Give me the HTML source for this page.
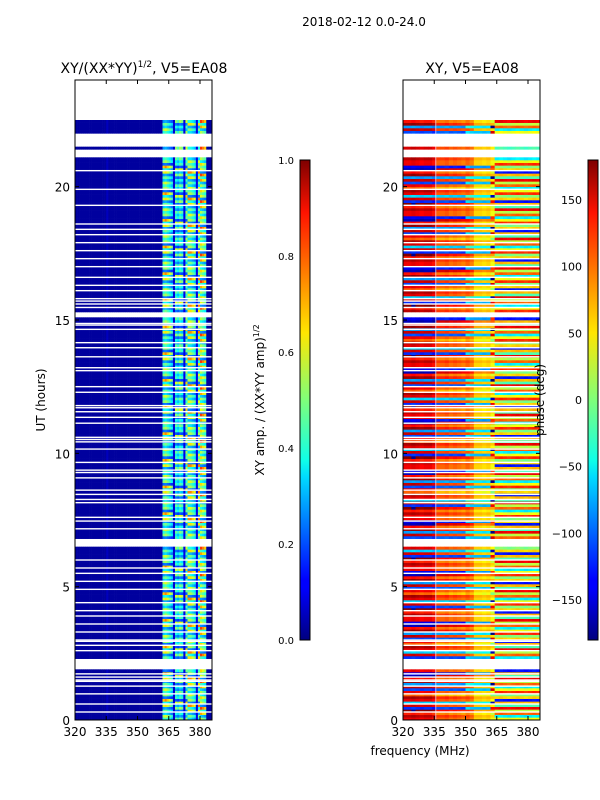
<!DOCTYPE html>
<html><head><meta charset="utf-8">
<style>
body{margin:0;background:#fff;}
svg{display:block;font-family:"DejaVu Sans","Liberation Sans",sans-serif;}
</style></head>
<body>
<svg id="fig" width="600" height="800" viewBox="0 0 600 800" xmlns="http://www.w3.org/2000/svg">
<rect x="0" y="0" width="600" height="800" fill="#fff"/>
<text x="364" y="26" font-size="12" text-anchor="middle">2018-02-12 0.0-24.0</text>
<text x="144" y="73" font-size="14" text-anchor="middle">XY/(XX*YY)<tspan font-size="9" dy="-6">1/2</tspan><tspan dy="6">, V5=EA08</tspan></text>
<text x="472" y="73" font-size="14" text-anchor="middle">XY, V5=EA08</text>
<g id="ampPanel"></g>
<g id="phasePanel"></g>
<g id="axes"></g>
<text transform="translate(45,400) rotate(-90)" font-size="12" text-anchor="middle">UT (hours)</text>
<text x="420" y="755" font-size="12" text-anchor="middle">frequency (MHz)</text>
<text transform="translate(264,400) rotate(-90)" font-size="12" text-anchor="middle">XY amp. / (XX*YY amp)<tspan font-size="8" dy="-5">1/2</tspan></text>
<text transform="translate(544,400) rotate(-90)" font-size="12" text-anchor="middle">phase (deg)</text>
<defs>
<linearGradient id="jet" x1="0" y1="1" x2="0" y2="0">
<stop offset="0" stop-color="#00007f"/><stop offset="0.11" stop-color="#0000ff"/><stop offset="0.125" stop-color="#0000ff"/><stop offset="0.34" stop-color="#00dbff"/><stop offset="0.375" stop-color="#10ffe7"/><stop offset="0.5" stop-color="#7fff7a"/><stop offset="0.64" stop-color="#ffe600"/><stop offset="0.66" stop-color="#ffd600"/><stop offset="0.89" stop-color="#ff1300"/><stop offset="1" stop-color="#7f0000"/>
</linearGradient>
</defs>
<rect x="300" y="160" width="10" height="480" fill="url(#jet)" stroke="#000" stroke-width="1"/>
<rect x="588" y="160" width="10" height="480" fill="url(#jet)" stroke="#000" stroke-width="1"/>
<g id="cbticks"></g>
</svg>
<script>
// ---- data ----
const freqStart = 320, freqEnd = 386;
const ampBin = 1, phaseBin = 2;
const timeBin = 0.1;
const gapIntervals = [[22.46,24],[21.48,21.99],[21.07,21.45],[15.08,15.3],[6.5,6.85],[1.95,2.3]];
const flagLines = [20.6,19.9,19.3,18.6,18.4,18.2,17.9,17.6,17.3,17.0,16.6,16.3,16.1,15.8,15.71,15.6,15.47,14.87,14.81,14.65,14.15,13.96,13.62,13.21,13.1,12.5,12.29,11.79,11.71,11.56,11.35,11.13,10.6,10.52,10.43,10.16,9.66,9.37,9.28,9.08,8.62,8.46,8.27,8.15,7.6,7.46,7.17,6.0,5.7,5.5,5.2,4.9,4.4,4.1,3.9,3.6,3.3,3.0,2.95,2.8,2.6,1.73,1.61,1.5,1.45,1.27,0.98,0.6,0.3];
// amplitude per 1-MHz channel (320..385)
const colAmp = [0.03,0.03,0.03,0.03,0.03,0.03,0.03,0.03,0.03,0.03,
                0.03,0.03,0.03,0.03,0.03,0.06,0.03,0.03,0.03,0.03,
                0.03,0.03,0.03,0.03,0.03,0.03,0.03,0.03,0.03,0.03,
                0.03,0.03,0.03,0.03,0.03,0.03,0.03,0.03,0.03,0.03,
                0.03,0.04,0.45,0.5,0.45,0.4,0.35,0.08,0.4,0.35,
                0.42,0.38,0.1,0.45,0.5,0.5,0.45,0.4,0.1,0.5,
                0.55,0.5,0.45,0.03,0.03,0.03];
const ampRowFactor = [1.0,0.6,1.3,0.8,1.5,0.5,1.1,0.9,1.2,0.7];
// phase per 2-MHz bin (deg) and spread
const colPhase = [140,140,145,140,135,140,140,130,100,100,105,95,100,95,90,100,90,60,60,55,60,40,40,45,40,35,40,45,40,35,40,45,40];
const colSpread = [1.0,1.0,1.0,1.0,1.0,1.0,1.0,1.0,0.8,0.8,0.8,0.8,0.8,0.8,0.8,0.6,0.6,0.5,0.5,0.5,0.5,1.0,1.0,1.0,1.0,1.0,1.0,1.0,1.0,1.0,1.0,1.0,1.0];
const phaseRowOffsetLow = [0,20,-15,40,-260,10,-200,5,25,-40,0,-250,15,-220,30,-10,60,-280,0];
const phaseRowOffsetHigh = [0,-90,60,-20,100,-60,30,-170,20,-40,80];
const highBandStart = 364;
const yTicks = [0,5,10,15,20];
const xTicks = [320,335,350,365,380];
const ampCbTicks = ["0.0","0.2","0.4","0.6","0.8","1.0"];
const phaseCbTicks = [-150,-100,-50,0,50,100,150];

// ---- geometry ----
const NS = "http://www.w3.org/2000/svg";
const panels = [{x0:75,x1:212,id:'ampPanel'},{x0:403,x1:540,id:'phasePanel'}];
const yTop = 80, yBot = 720;
const yS = ut => yBot - ut*(yBot-yTop)/24;
const pxPerMHz = 125/60;
const xS = (p,f) => p.x0 + (f-freqStart)*pxPerMHz;

function jet(t){
  t = Math.max(0,Math.min(1,t));
  const c = v => Math.round(255*Math.max(0,Math.min(1,v)));
  return `rgb(${c(1.5-Math.abs(4*t-3))},${c(1.5-Math.abs(4*t-2))},${c(1.5-Math.abs(4*t-1))})`;
}
function inGap(ut){ return gapIntervals.some(g => ut>=g[0] && ut<g[1]); }
function wrap(d){ while(d>180) d-=360; while(d<-180) d+=360; return d; }

const nRows = Math.round(24/timeBin);
panels.forEach((p,pi) => {
  const g = document.getElementById(p.id);
  const bin = pi===0 ? ampBin : phaseBin;
  const nCols = pi===0 ? colAmp.length : colPhase.length;
  for(let r=0;r<nRows;r++){
    const ut = r*timeBin;
    if(inGap(ut+timeBin/2)) continue;
    for(let c=0;c<nCols;c++){
      const f = freqStart + c*bin;
      let col;
      if(pi===0){
        const v = colAmp[c] * (colAmp[c]>0.2 ? ampRowFactor[(r+Math.floor(c/6))%ampRowFactor.length] : 1);
        col = jet(v);
      } else {
        const off = f>=highBandStart ? phaseRowOffsetHigh[r%phaseRowOffsetHigh.length] : phaseRowOffsetLow[r%phaseRowOffsetLow.length];
        const ph = wrap(colPhase[c] + off*colSpread[c]);
        col = jet((ph+180)/360);
      }
      const rc = document.createElementNS(NS,'rect');
      const xa = xS(p,f), xb = Math.min(p.x1, xS(p,f+bin));
      rc.setAttribute('x',xa.toFixed(2));
      rc.setAttribute('y',yS(ut+timeBin).toFixed(2));
      rc.setAttribute('width',(xb-xa+0.3).toFixed(2));
      rc.setAttribute('height',((yBot-yTop)/24*timeBin+0.3).toFixed(2));
      rc.setAttribute('fill',col);
      
      
      g.appendChild(rc);
    }
  }
  flagLines.forEach(ut => {
    const ln = document.createElementNS(NS,'rect');
    ln.setAttribute('x',p.x0); ln.setAttribute('y',(yS(ut)-0.7).toFixed(2));
    ln.setAttribute('width',p.x1-p.x0); ln.setAttribute('height',1.4);
    ln.setAttribute('fill','#fff');
    
    
    g.appendChild(ln);
  });
  if(pi===1){
    const vl = document.createElementNS(NS,'rect');
    vl.setAttribute('x',xS(p,335.5)); vl.setAttribute('y',yTop); vl.setAttribute('width',1); vl.setAttribute('height',yBot-yTop);
    vl.setAttribute('fill','rgba(255,255,255,0.7)');
    
    
    g.appendChild(vl);
  }
});

const ax = document.getElementById('axes');
panels.forEach((p,pi) => {
  const fr = document.createElementNS(NS,'rect');
  fr.setAttribute('x',p.x0); fr.setAttribute('y',yTop); fr.setAttribute('width',p.x1-p.x0); fr.setAttribute('height',yBot-yTop);
  fr.setAttribute('fill','none'); fr.setAttribute('stroke','#000'); fr.setAttribute('stroke-width','1');
  
  
  ax.appendChild(fr);
  yTicks.forEach(t => {
    const y = yS(t);
    const tk = document.createElementNS(NS,'path');
    tk.setAttribute('d',`M${p.x0},${y}h4M${p.x1},${y}h-4`);
    tk.setAttribute('stroke','#000');
    
    
    ax.appendChild(tk);
    const tx = document.createElementNS(NS,'text');
    tx.setAttribute('x',p.x0-5); tx.setAttribute('y',y+5);
    tx.setAttribute('font-size','12'); tx.setAttribute('text-anchor','end');
    tx.textContent = t;
    
    
    ax.appendChild(tx);
  });
  xTicks.forEach(t => {
    const x = xS(p,t);
    const tk = document.createElementNS(NS,'path');
    tk.setAttribute('d',`M${x},${yBot}v-4M${x},${yTop}v4`);
    tk.setAttribute('stroke','#000');
    
    
    ax.appendChild(tk);
    const tx = document.createElementNS(NS,'text');
    tx.setAttribute('x',x); tx.setAttribute('y',yBot+16);
    tx.setAttribute('font-size','12'); tx.setAttribute('text-anchor','middle');
    tx.textContent = t;
    
    
    ax.appendChild(tx);
  });
});

const cb = document.getElementById('cbticks');
ampCbTicks.forEach((t,i) => {
  const y = 640 - i*96;
  const tx = document.createElementNS(NS,'text');
  tx.setAttribute('x',294); tx.setAttribute('y',y+4);
  tx.setAttribute('font-size','10'); tx.setAttribute('text-anchor','end');
  tx.textContent = t;
  
  
  cb.appendChild(tx);
});
phaseCbTicks.forEach(t => {
  const y = 400 - t*480/360;
  const tx = document.createElementNS(NS,'text');
  tx.setAttribute('x',582); tx.setAttribute('y',y+4);
  tx.setAttribute('font-size','11'); tx.setAttribute('text-anchor','end');
  tx.textContent = t<0 ? '\u2212'+(-t) : String(t);
  
  
  cb.appendChild(tx);
});
</script>
</body></html>
